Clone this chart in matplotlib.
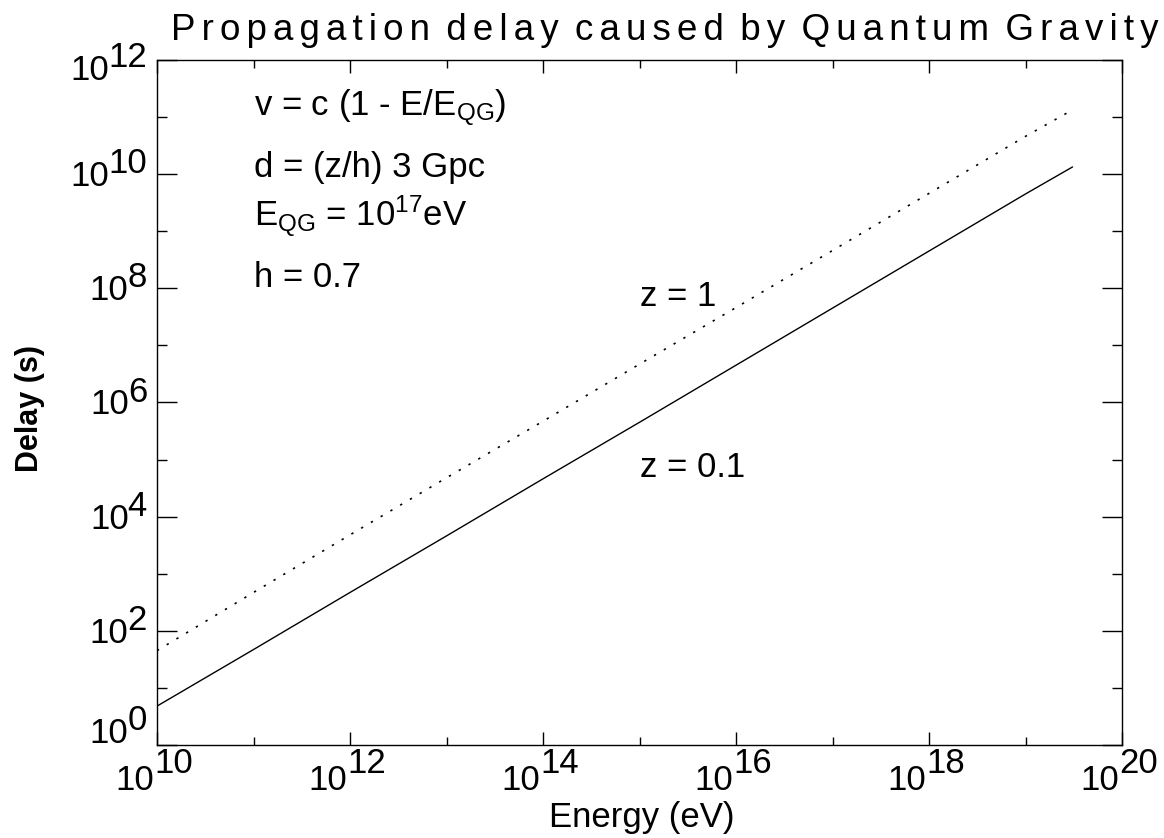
import matplotlib
matplotlib.use("Agg")
import matplotlib.pyplot as plt
from matplotlib.ticker import FixedLocator, NullFormatter

plt.rcParams['font.family'] = ['Liberation Sans', 'DejaVu Sans']
plt.rcParams['mathtext.fontset'] = 'custom'
plt.rcParams['mathtext.rm'] = 'Liberation Sans'
plt.rcParams['mathtext.it'] = 'Liberation Sans'
plt.rcParams['mathtext.bf'] = 'Liberation Sans:bold'

# ---- data ----
energy = [1e10, 1e11, 1e12, 1e13, 1e14, 1e15, 1e16, 1e17, 1e18, 1e19, 3.1e19]
delay_z01 = [4.8, 47, 4.7e2, 4.6e3, 4.6e4, 4.5e5, 4.5e6, 4.5e7, 4.5e8, 4.5e9, 1.35e10]
delay_z1 = [45, 4.7e2, 4.8e3, 4.8e4, 4.7e5, 4.7e6, 4.6e7, 4.6e8, 4.6e9, 4.6e10, 1.35e11]
x_major_exp = [10, 12, 14, 16, 18, 20]
x_minor_exp = [11, 13, 15, 17, 19]
y_major_exp = [0, 2, 4, 6, 8, 10, 12]
y_minor_exp = [1, 3, 5, 7, 9, 11]

title = "Propagation delay caused by Quantum Gravity"
xlabel = "Energy (eV)"
ylabel = "Delay (s)"
notes = ["v = c (1 - E/E$_{\\mathrm{QG}}$)", "d = (z/h) 3 Gpc",
         "E$_{\\mathrm{QG}}$ = 10$^{17}$eV", "h = 0.7"]
note_y = [1.07e11, 9.0e9, 1.25e9, 1.05e8]
curve_labels = ["z = 1", "z = 0.1"]
curve_label_y = [5.0e7, 4.9e4]

W, H = 1164, 838
fig = plt.figure(figsize=(W / 100, H / 100), dpi=100)
L, R, T, B = 157, 1122, 60, 745
ax = fig.add_axes([L / W, 1 - B / H, (R - L) / W, (B - T) / H])

ax.plot(energy, delay_z01, color='black', lw=1.0, solid_capstyle='butt')
ax.plot(energy, delay_z1, color='black', lw=1.2, linestyle=(0, (1.4, 5.4)))

ax.set_xscale('log')
ax.set_yscale('log')
ax.set_xlim(1e10, 1e20)
ax.set_ylim(1, 1e12)

ax.xaxis.set_major_locator(FixedLocator([10.0 ** e for e in x_major_exp]))
ax.xaxis.set_minor_locator(FixedLocator([10.0 ** e for e in x_minor_exp]))
ax.yaxis.set_major_locator(FixedLocator([10.0 ** e for e in y_major_exp]))
ax.yaxis.set_minor_locator(FixedLocator([10.0 ** e for e in y_minor_exp]))
ax.xaxis.set_minor_formatter(NullFormatter())
ax.yaxis.set_minor_formatter(NullFormatter())

ax.tick_params(which='both', direction='in', top=True, right=True,
               labelbottom=False, labelleft=False, width=1.0, color='black')
ax.tick_params(axis='y', which='major', length=14.4)
ax.tick_params(axis='y', which='minor', length=7.2)
ax.tick_params(axis='x', which='major', length=9.4)
ax.tick_params(axis='x', which='minor', length=5.8)
for s in ax.spines.values():
    s.set_linewidth(1.0)

FS = 25
# y tick labels: "10" + big exponent
for e in y_major_exp:
    shift = 0
    if e == y_major_exp[-1]:
        shift = -8
    elif e == y_major_exp[0]:
        shift = 14
    exp_t = ax.annotate(str(e), xy=(0, 10.0 ** e), xycoords=ax.get_yaxis_transform(),
                        xytext=(-10, 1 + shift), textcoords='offset pixels',
                        ha='right', va='baseline', fontsize=FS)
    ax.annotate('10', xy=(0, 0), xycoords=exp_t, xytext=(1, -13),
                textcoords='offset pixels', ha='right', va='bottom', fontsize=FS)

# x tick labels
for e in x_major_exp:
    ax.annotate(str(e), xy=(10.0 ** e, 0), xycoords=ax.get_xaxis_transform(),
                xytext=(-3, -28), textcoords='offset pixels',
                ha='left', va='baseline', fontsize=FS)
    ax.annotate('10', xy=(10.0 ** e, 0), xycoords=ax.get_xaxis_transform(),
                xytext=(-3, -45), textcoords='offset pixels',
                ha='right', va='baseline', fontsize=FS)

for txt, yv in zip(notes, note_y):
    ax.text(1e11, yv, txt, fontsize=FS, ha='left', va='baseline')
for txt, yv in zip(curve_labels, curve_label_y):
    ax.text(1e15, yv, txt, fontsize=FS, ha='left', va='baseline')

fig.text(642 / W, 1 - 827 / H, xlabel, fontsize=FS, ha='center', va='baseline')
fig.text(30 / W, 1 - 408 / H, ylabel, fontsize=22, fontweight='bold',
         ha='center', va='center', rotation=90)

# title with extra letter spacing
spaced = ''
for i, ch in enumerate(title):
    spaced += ch
    if i < len(title) - 1 and title[i + 1] != ' ':
        spaced += '\u2006'
fig.text(665 / W, 1 - 40 / H, spaced, fontsize=26.5,
         ha='center', va='baseline')

fig.savefig('out.png', dpi=100, facecolor='white')
